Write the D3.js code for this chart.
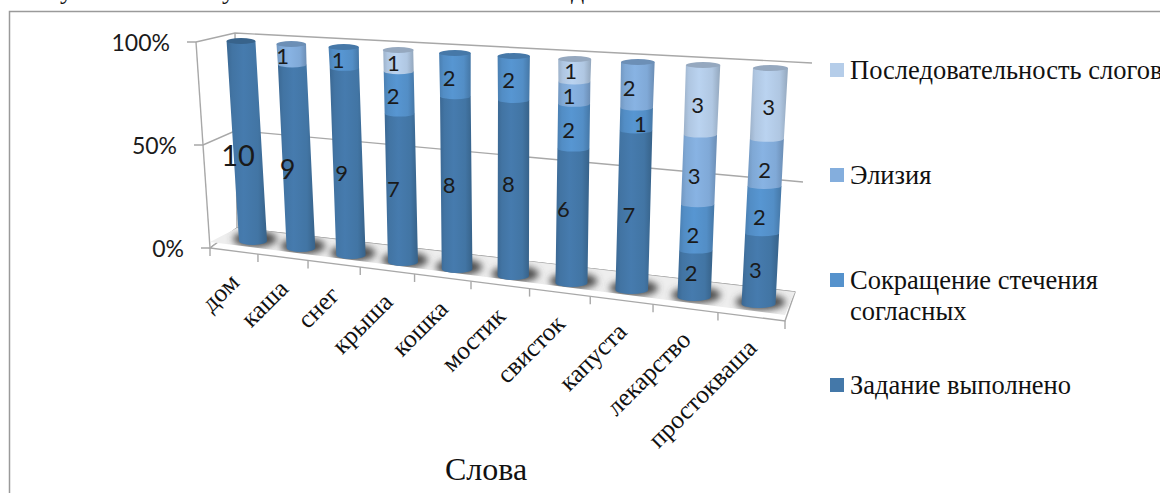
<!DOCTYPE html>
<html lang="ru">
<head>
<meta charset="utf-8">
<script src="https://cdn.jsdelivr.net/npm/d3@7/dist/d3.min.js"></script>
<style>
  html, body { margin: 0; padding: 0; background: #fff; overflow: hidden; }
  svg { display: block; }
  .serif { font-family: "Liberation Serif", serif; fill: #111; }
  .sans { font-family: Lato, sans-serif; fill: #1a1a1a; }
</style>
</head>
<body>
<svg id="chart" width="1160" height="493"></svg>
<script>
// Speech-test results per word, as a 100% stacked 3D cylinder chart.
const words = ["дом", "каша", "снег", "крыша", "кошка", "мостик", "свисток", "капуста", "лекарство", "простокваша"];
const seriesNames = ["Задание выполнено", "Сокращение стечения согласных", "Элизия", "Последовательность слогов"];
const done        = [10, 9, 9, 7, 8, 8, 6, 7, 2, 3];
const clusters    = [0, 0, 1, 2, 2, 2, 2, 1, 2, 2];
const elision     = [0, 1, 0, 0, 0, 0, 1, 2, 3, 2];
const syllables   = [0, 0, 0, 1, 0, 0, 1, 0, 3, 3];
const percentTicks = [0, 0.5, 1];
const axisTitle = "Слова";

const seriesColors = ["#4478a9", "#5592cc", "#84aedd", "#b5cde9"];

// Hand placement of the value labels relative to the middle of their segment.
const labelNudge = [
  [[-9, 11]],
  [[-9, 9], null, [-9, -2]],
  [[-6, 8], [-6, -1]],
  [[-8, -3], [-6, 0], null, [-5, -2]],
  [[-7, -2], [-6, -1]],
  [[-5, -8], [-5, -2]],
  [[-9, -11], [-5, 0], [-5, -1], [-4, -3]],
  [[-5, 1], [4, 1], [-8, -1]],
  [[-4, -5], [-4, 4], [-5, 3], [-4, 1]],
  [[-5, -3], [-4, 3], [-1, 4], [0, 0]]
];
const oversizedLabels = { "0-0": 29, "1-0": 27 };

const svg = d3.select("#chart");
const defs = svg.append("defs");

// Perspective projection: horizontal spacing widens slowly towards the viewer.
const quad = (start, b, c) => i => start + b * i + c * i * i;
const baseX = quad(253, 46.9, 1.03);
const topX = quad(241, 49.2, 1.07);
const baseY = i => 241 + 7 * i;
const topY = i => 41 + 3 * i;
const halfWidth = d3.scaleLinear().domain([0, words.length - 1]).range([14, 17]);
const rimRy = 4;
const capRy = 3;

const barX = i => d3.scaleLinear().domain([0, 1]).range([baseX(i), topX(i)]);
const barY = i => d3.scaleLinear().domain([0, 1]).range([baseY(i), topY(i)]);

// Box corners of the 3D plot.
const frontLeftX = d3.scaleLinear().domain([0, 1]).range([210, 196]);
const frontLeftY = d3.scaleLinear().domain([0, 1]).range([248, 42]);
const backLeftX = d3.scaleLinear().domain([0, 1]).range([237, 235]);
const backLeftY = d3.scaleLinear().domain([0, 1]).range([228, 33]);
const backRightX = d3.scaleLinear().domain([0, 0.5, 1]).range([795, 803, 812]);
const backRightY = d3.scaleLinear().domain([0, 0.5, 1]).range([292, 182, 63]);
const floorFrontRight = [785, 321];
const tickX = quad(210, 46.9, 1.06);
const frontLineY = d3.scaleLinear().domain([210, 785]).range([248, 321]);

const stack = d3.stack()
  .keys(d3.range(4))
  .value((row, k) => row[k])
  .offset(d3.stackOffsetExpand);
const rows = words.map((_, i) => [done[i], clusters[i], elision[i], syllables[i]]);
const stacked = stack(rows);

// Outer frame of the chart area; it runs off the bottom and right of the page.
svg.append("path")
  .attr("d", "M9.5,493V11.5H1160")
  .attr("fill", "none").attr("stroke", "#9a9a9a").attr("stroke-width", 1.5);

// Descenders of the caption line sitting above the frame.
svg.selectAll("text.caption").data([["у", 60], ["у", 222], ["д", 571]]).join("text")
  .attr("class", "caption serif")
  .attr("x", d => d[1]).attr("y", -1)
  .attr("font-size", 26)
  .text(d => d[0]);

// Walls.
const wall = svg.append("g").attr("fill", "none").attr("stroke", "#a8a8a8").attr("stroke-width", 1.4);
percentTicks.forEach(t => {
  wall.append("path").attr("d", d3.line()([
    [frontLeftX(t) - 9, frontLeftY(t)],
    [frontLeftX(t), frontLeftY(t)],
    [backLeftX(t), backLeftY(t)],
    [backRightX(t), backRightY(t)]
  ]));
});
wall.append("path").attr("d", d3.line()([[frontLeftX(1), frontLeftY(1)], [frontLeftX(0), frontLeftY(0)]]));
wall.append("path").attr("d", d3.line()([[backLeftX(1), backLeftY(1)], [backLeftX(0), backLeftY(0)]]));

// Floor slab with soft shadows pooled round the cylinder feet.
const slabDepth = 6;
const floorTop = [
  [backLeftX(0), backLeftY(0)],
  [backRightX(0), backRightY(0)],
  [floorFrontRight[0], floorFrontRight[1] - slabDepth],
  [frontLeftX(0), frontLeftY(0) - slabDepth]
];
svg.append("path")
  .attr("d", d3.line()([
    [frontLeftX(0), frontLeftY(0)],
    [backLeftX(0), backLeftY(0)],
    [backRightX(0), backRightY(0)],
    floorFrontRight
  ]) + "Z")
  .attr("fill", "#fff").attr("stroke", "#a8a8a8").attr("stroke-width", 1.4);
svg.append("path")
  .attr("d", d3.line()(floorTop) + "Z")
  .attr("fill", "#eeeeee").attr("stroke", "none");

defs.append("clipPath").attr("id", "floorClip")
  .append("path").attr("d", d3.line()(floorTop) + "Z");
defs.append("filter").attr("id", "soft").attr("x", "-40%").attr("y", "-80%").attr("width", "180%").attr("height", "260%")
  .append("feGaussianBlur").attr("stdDeviation", 3.5);
svg.append("g").attr("clip-path", "url(#floorClip)")
  .append("g").attr("filter", "url(#soft)")
  .selectAll("ellipse").data(words).join("ellipse")
  .attr("cx", (_, i) => baseX(i) + 2)
  .attr("cy", (_, i) => baseY(i) - 2)
  .attr("rx", (_, i) => halfWidth(i) + 8)
  .attr("ry", 8)
  .attr("fill", "#4c4c4c");

// Cylindrical shading for each series.
const shade = (c, k) => d3.color(c).darker(k).formatHex();
seriesColors.forEach((c, k) => {
  const g = defs.append("linearGradient").attr("id", "cyl" + k).attr("x1", 0).attr("x2", 1).attr("y1", 0).attr("y2", 0);
  g.append("stop").attr("offset", "0%").attr("stop-color", shade(c, 0.4));
  g.append("stop").attr("offset", "14%").attr("stop-color", shade(c, 0.1));
  g.append("stop").attr("offset", "42%").attr("stop-color", d3.color(c).brighter(0.08).formatHex());
  g.append("stop").attr("offset", "78%").attr("stop-color", shade(c, 0.08));
  g.append("stop").attr("offset", "100%").attr("stop-color", shade(c, 0.58));
});

// One segment of a cylinder, lower rim curved, painted bottom to top.
function segmentPath(i, from, to) {
  const X = barX(i), Y = barY(i), r = halfWidth(i);
  const rt = r * (to === 1 ? 1.03 : 1);
  const ry = from === 0 ? rimRy : rimRy - 1;
  return `M${X(from) - r},${Y(from)}` +
    `A${r},${ry} 0 0 0 ${X(from) + r},${Y(from)}` +
    `L${X(to) + rt},${Y(to)}L${X(to) - rt},${Y(to)}Z`;
}

const bars = svg.append("g");
words.forEach((_, i) => {
  const g = bars.append("g").attr("class", "cylinder");
  let topSeries = 0;
  stacked.forEach((layer, k) => {
    const [from, to] = layer[i];
    if (to - from <= 0) return;
    topSeries = k;
    g.append("path")
      .attr("d", segmentPath(i, from, to))
      .attr("fill", `url(#cyl${k})`);
  });
  g.append("ellipse")
    .attr("cx", barX(i)(1)).attr("cy", barY(i)(1))
    .attr("rx", halfWidth(i) * 1.03).attr("ry", capRy)
    .attr("fill", shade(seriesColors[topSeries], 0.55));
});

// Value labels.
const labels = svg.append("g");
words.forEach((_, i) => {
  stacked.forEach((layer, k) => {
    const [from, to] = layer[i];
    const value = rows[i][k];
    if (!value) return;
    const mid = (from + to) / 2;
    const nudge = (labelNudge[i] && labelNudge[i][k]) || [0, 0];
    labels.append("text")
      .attr("class", "sans")
      .attr("text-anchor", "middle")
      .attr("x", barX(i)(mid) + nudge[0])
      .attr("y", barY(i)(mid) + rimRy + nudge[1])
      .attr("dy", "0.36em")
      .attr("font-size", oversizedLabels[`${i}-${k}`] || 22)
      .text(value);
  });
});

// Percent axis labels.
svg.append("g").selectAll("text").data(percentTicks).join("text")
  .attr("class", "sans")
  .attr("text-anchor", "end")
  .attr("x", t => frontLeftX(t) - 26)
  .attr("y", t => frontLeftY(t) + 9)
  .attr("font-size", 23)
  .attr("fill", "#333")
  .text(d3.format(".0%"));

// Category ticks and slanted word labels.
const tickIdx = d3.range(words.length + 1);
svg.append("g").selectAll("line").data(tickIdx).join("line")
  .attr("x1", i => tickX(i)).attr("x2", i => tickX(i))
  .attr("y1", i => frontLineY(tickX(i)))
  .attr("y2", i => frontLineY(tickX(i)) + 8)
  .attr("stroke", "#a8a8a8").attr("stroke-width", 1.4);

svg.append("g").selectAll("text").data(words).join("text")
  .attr("class", "serif")
  .attr("text-anchor", "end")
  .attr("font-size", 25.5)
  .attr("transform", (_, i) => {
    const x = tickX(i + 0.5) + 7;
    return `translate(${x},${frontLineY(x) + 32}) rotate(-45)`;
  })
  .text(d => d);

// Axis title.
svg.append("text").attr("class", "serif")
  .attr("x", 445).attr("y", 480)
  .attr("font-size", 32)
  .text(axisTitle);

// Legend, listed top-down from the last series to the first.
const legendRows = [
  { k: 3, y: 63, lines: ["Последовательность слогов"] },
  { k: 2, y: 168, lines: ["Элизия"] },
  { k: 1, y: 273, lines: ["Сокращение стечения", "согласных"] },
  { k: 0, y: 378, lines: ["Задание выполнено"] }
];
const legend = svg.append("g").selectAll("g").data(legendRows).join("g");
legend.append("rect")
  .attr("x", 830).attr("y", d => d.y).attr("width", 14).attr("height", 14)
  .attr("fill", d => seriesColors[d.k]);
legend.each(function (d) {
  d3.select(this).selectAll("text").data(d.lines).join("text")
    .attr("class", "serif")
    .attr("x", 850)
    .attr("y", (_, j) => d.y + 16 + j * 31)
    .attr("font-size", 26.5)
    .text(t => t);
});
</script>
</body>
</html>
